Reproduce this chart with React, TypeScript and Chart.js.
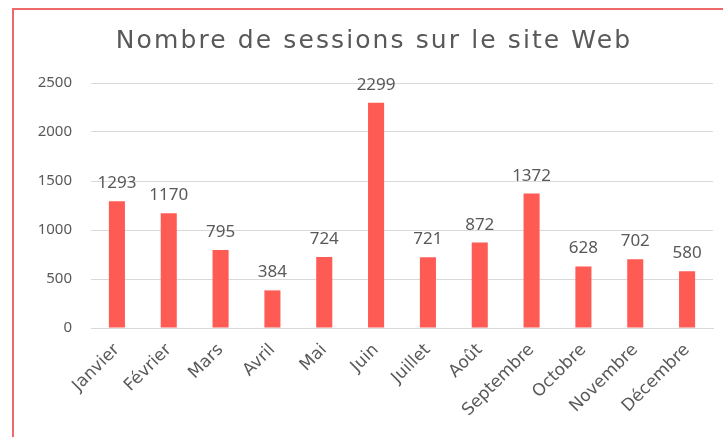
import React, { useEffect, useRef } from "react";
import { Chart, registerables } from "chart.js";

Chart.register(...registerables);

const months = [
  "Janvier", "Février", "Mars", "Avril", "Mai", "Juin",
  "Juillet", "Août", "Septembre", "Octobre", "Novembre", "Décembre",
];
const sessions = [1293, 1170, 795, 384, 724, 2299, 721, 872, 1372, 628, 702, 580];
const yTicks = [0, 500, 1000, 1500, 2000, 2500];
const chartTitle = "Nombre de sessions sur le site Web";

const FONT = "'Noto Sans', sans-serif";
const WIDE = "'DejaVu Sans', sans-serif";
const TEXT = "#595959";

const valueLabels = {
  id: "valueLabels",
  afterDatasetsDraw(chart: any) {
    const ctx = chart.ctx;
    const meta = chart.getDatasetMeta(0);
    ctx.save();
    ctx.font = `17px ${FONT}`;
    ctx.fillStyle = TEXT;
    ctx.textAlign = "center";
    ctx.textBaseline = "alphabetic";
    meta.data.forEach((bar: any, i: number) => {
      ctx.fillText(String(sessions[i]), bar.x, bar.y - 13);
    });
    ctx.restore();
  },
};

const titleText = {
  id: "titleText",
  afterDraw(chart: any) {
    const ctx = chart.ctx;
    ctx.save();
    ctx.font = `25px ${WIDE}`;
    (ctx as any).letterSpacing = "2.1px";
    ctx.fillStyle = TEXT;
    ctx.textAlign = "center";
    ctx.textBaseline = "alphabetic";
    ctx.fillText(chartTitle, 360, 38);
    ctx.restore();
  },
};

export default function App() {
  const ref = useRef<HTMLCanvasElement>(null);
  useEffect(() => {
    const chart = new Chart(ref.current!, {
      type: "bar",
      data: {
        labels: months,
        datasets: [
          {
            data: sessions,
            backgroundColor: "#FF5B55",
            categoryPercentage: 1,
            barPercentage: 0.31,
          },
        ],
      },
      options: {
        animation: false,
        responsive: false,
        layout: { padding: { left: 0, right: 10, top: 73, bottom: 0 } },
        plugins: {
          legend: { display: false },
          tooltip: { enabled: false },
          title: { display: false },
        },
        scales: {
          x: {
            grid: { display: false, drawTicks: false },
            border: { display: true, color: "#d9d9d9" },
            ticks: {
              color: TEXT,
              font: { family: WIDE, size: 17 },
              maxRotation: 45,
              minRotation: 45,
              padding: 12,
              autoSkip: false,
            },
            afterFit(scale: any) {
              scale.height = 109;
            },
          },
          y: {
            min: 0,
            max: 2500,
            afterBuildTicks(scale: any) {
              scale.ticks = yTicks.map((v) => ({ value: v }));
            },
            grid: { color: "#d9d9d9", drawTicks: false },
            border: { display: false },
            ticks: {
              color: TEXT,
              font: { family: FONT, size: 15 },
              padding: 19,
              callback: (v: any) => String(v),
            },
            afterFit(scale: any) {
              scale.width = 77;
            },
          },
        },
      },
      plugins: [valueLabels, titleText],
    });
    return () => chart.destroy();
  }, []);

  return (
    <div
      style={{
        position: "fixed",
        left: 12,
        top: 8,
        width: 720,
        height: 440,
        borderLeft: "2px solid #ee6a6a",
        borderTop: "2px solid #ee6a6a",
        background: "#fff",
        boxSizing: "border-box",
      }}
    >
      <canvas ref={ref} width={709} height={427} style={{ display: "block" }} />
    </div>
  );
}
